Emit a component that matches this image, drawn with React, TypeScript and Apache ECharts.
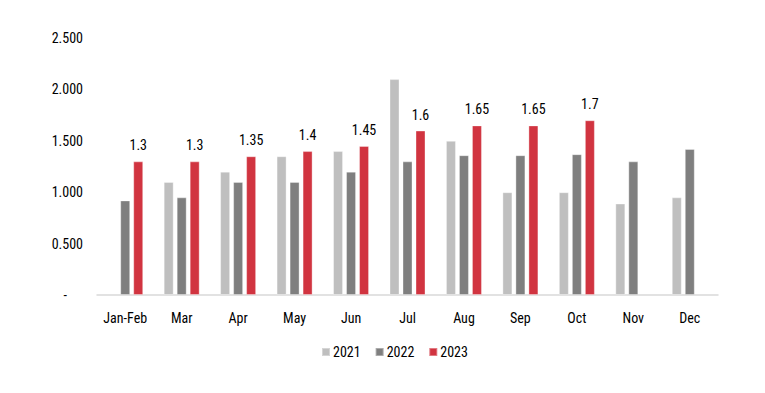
import React, { useEffect, useRef } from "react";
import * as echarts from "echarts";

const categories = ["Jan-Feb", "Mar", "Apr", "May", "Jun", "Jul", "Aug", "Sep", "Oct", "Nov", "Dec"];
const s2021 = [null, 1.1, 1.2, 1.35, 1.4, 2.1, 1.5, 1.0, 1.0, 0.89, 0.95];
const s2022 = [0.92, 0.95, 1.1, 1.1, 1.2, 1.3, 1.36, 1.36, 1.37, 1.3, 1.42];
const s2023 = [1.3, 1.3, 1.35, 1.4, 1.45, 1.6, 1.65, 1.65, 1.7, null, null];
const seriesNames = ["2021", "2022", "2023"];
const colors = ["#BFBFBF", "#7F7F7F", "#D13440"];

const FONT = "'Liberation Sans Narrow', 'Roboto Condensed', Roboto, sans-serif";

export default function App() {
  const ref = useRef<HTMLDivElement>(null);
  useEffect(() => {
    if (!ref.current) return;
    const chart = echarts.init(ref.current, undefined, { renderer: "svg" });
    const mk = (i: number, data: (number | null)[], label: boolean) => ({
      name: seriesNames[i],
      type: "bar",
      data,
      barWidth: 10,
      barGap: "30%",
      itemStyle: { color: colors[i], borderColor: "rgba(255,255,255,0.35)", borderWidth: 1 },
      label: label
        ? { show: true, position: "top", distance: 9, color: "#000", fontSize: 14, fontFamily: FONT }
        : { show: false },
    });
    chart.setOption({
      animation: false,
      textStyle: { fontFamily: FONT },
      grid: { left: 89, right: 39, top: 30, bottom: 90 },
      legend: {
        bottom: 21,
        left: 308,
        itemWidth: 8,
        itemHeight: 8,
        itemGap: 14,
        icon: "rect",
        textStyle: { fontSize: 14, color: "#000", fontFamily: FONT, padding: [0, 0, 0, -2] },
        data: seriesNames,
      },
      xAxis: {
        type: "category",
        data: categories,
        axisLine: { lineStyle: { color: "#D9D9D9", width: 1.5 } },
        axisTick: { show: false },
        axisLabel: { color: "#000", fontSize: 14, fontFamily: FONT, margin: 16, interval: 0 },
      },
      yAxis: {
        type: "value",
        min: 0,
        max: 2.5,
        interval: 0.5,
        splitLine: { show: false },
        axisLine: { show: false },
        axisTick: { show: false },
        axisLabel: {
          color: "#000",
          fontSize: 14,
          fontFamily: FONT,
          margin: 14,
          formatter: (v: number) => (v === 0 ? "-     " : v.toFixed(3)),
        },
      },
      series: [mk(0, s2021, false), mk(1, s2022, false), mk(2, s2023, true)],
    });
    return () => chart.dispose();
  }, []);
  return <div ref={ref} style={{ width: 749, height: 377 }} />;
}
